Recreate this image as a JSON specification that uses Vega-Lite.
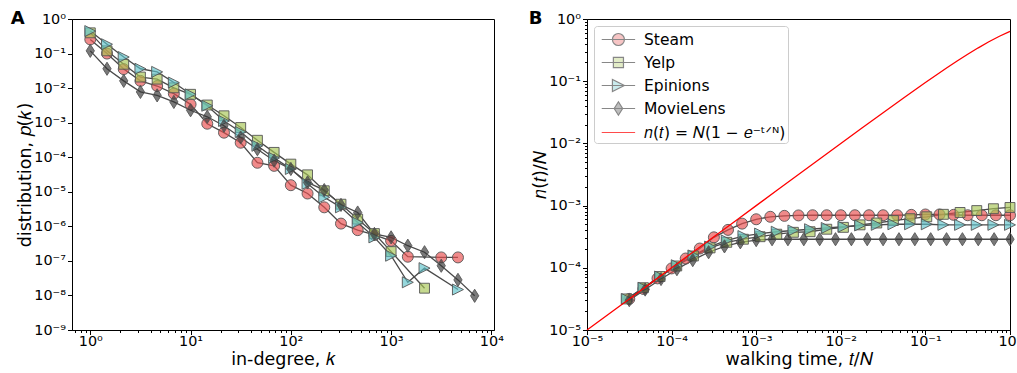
{
  "$schema": "https://vega.github.io/schema/vega-lite/v6.json",
  "padding": {"left": 10, "right": 0, "top": 9, "bottom": 0},
  "config": {
    "font": "DejaVu Sans",
    "view": {"stroke": "black", "strokeWidth": 1},
    "axis": {"labelFont": "DejaVu Sans", "labelFontSize": 14.4, "labelColor": "black", "titleFont": "DejaVu Sans", "titleFontSize": 17.5, "titleFontWeight": "normal", "titleColor": "black", "domainColor": "black", "tickColor": "black", "grid": false, "labelOverlap": false, "labelFlush": false, "tickWidth": 1, "labelPadding": 2, "titlePadding": -1},
    "axisX": {"labelPadding": 0, "titlePadding": 3},
    "title": {"font": "DejaVu Sans", "fontSize": 18, "fontWeight": "bold", "anchor": "start", "frame": "bounds", "color": "black"},
    "concat": {"spacing": 24}
  },
  "resolve": {"scale": {"color": "independent", "shape": "independent", "fill": "independent", "stroke": "independent"}, "legend": {"color": "independent", "shape": "independent", "fill": "independent", "stroke": "independent"}},
  "datasets": {
    "deg": [
      {"series":"Steam","k":1,"p":2.57e-1},{"series":"Steam","k":1.4678,"p":1.0e-1},{"series":"Steam","k":2.1544,"p":3.55e-2},{"series":"Steam","k":3.1623,"p":1.62e-2},{"series":"Steam","k":4.6416,"p":1.15e-2},{"series":"Steam","k":6.8129,"p":6.92e-3},{"series":"Steam","k":10,"p":3.39e-3},{"series":"Steam","k":14.678,"p":9.33e-4},{"series":"Steam","k":21.544,"p":5.13e-4},{"series":"Steam","k":31.623,"p":2.63e-4},{"series":"Steam","k":46.416,"p":6.92e-5},{"series":"Steam","k":68.129,"p":5.62e-5},{"series":"Steam","k":100,"p":1.55e-5},{"series":"Steam","k":146.78,"p":8.91e-6},{"series":"Steam","k":215.44,"p":3.55e-6},{"series":"Steam","k":316.23,"p":1.20e-6},{"series":"Steam","k":464.16,"p":7.76e-7},{"series":"Steam","k":681.29,"p":5.62e-7},{"series":"Steam","k":1000,"p":3.80e-7},{"series":"Steam","k":1467.8,"p":1.32e-7},{"series":"Steam","k":3162.3,"p":1.26e-7},{"series":"Steam","k":4641.6,"p":1.26e-7},
      {"series":"Yelp","k":1,"p":3.98e-1},{"series":"Yelp","k":1.4678,"p":1.20e-1},{"series":"Yelp","k":2.1544,"p":4.90e-2},{"series":"Yelp","k":3.1623,"p":2.09e-2},{"series":"Yelp","k":4.6416,"p":1.82e-2},{"series":"Yelp","k":6.8129,"p":1.02e-2},{"series":"Yelp","k":10,"p":6.61e-3},{"series":"Yelp","k":14.678,"p":3.24e-3},{"series":"Yelp","k":21.544,"p":1.58e-3},{"series":"Yelp","k":31.623,"p":7.24e-4},{"series":"Yelp","k":46.416,"p":3.09e-4},{"series":"Yelp","k":68.129,"p":1.38e-4},{"series":"Yelp","k":100,"p":6.31e-5},{"series":"Yelp","k":146.78,"p":3.09e-5},{"series":"Yelp","k":215.44,"p":1.07e-5},{"series":"Yelp","k":316.23,"p":4.37e-6},{"series":"Yelp","k":464.16,"p":1.62e-6},{"series":"Yelp","k":681.29,"p":6.17e-7},{"series":"Yelp","k":1000,"p":1.86e-7},{"series":"Yelp","k":2154.4,"p":1.62e-8},
      {"series":"Epinions","k":1,"p":4.47e-1},{"series":"Epinions","k":1.4678,"p":1.86e-1},{"series":"Epinions","k":2.1544,"p":7.94e-2},{"series":"Epinions","k":3.1623,"p":3.63e-2},{"series":"Epinions","k":4.6416,"p":2.95e-2},{"series":"Epinions","k":6.8129,"p":1.45e-2},{"series":"Epinions","k":10,"p":6.61e-3},{"series":"Epinions","k":14.678,"p":3.09e-3},{"series":"Epinions","k":21.544,"p":1.12e-3},{"series":"Epinions","k":31.623,"p":5.37e-4},{"series":"Epinions","k":46.416,"p":2.14e-4},{"series":"Epinions","k":68.129,"p":9.55e-5},{"series":"Epinions","k":100,"p":4.57e-5},{"series":"Epinions","k":146.78,"p":1.70e-5},{"series":"Epinions","k":215.44,"p":6.92e-6},{"series":"Epinions","k":316.23,"p":3.55e-6},{"series":"Epinions","k":464.16,"p":1.29e-6},{"series":"Epinions","k":681.29,"p":4.79e-7},{"series":"Epinions","k":1000,"p":1.41e-7},{"series":"Epinions","k":1467.8,"p":2.40e-8},{"series":"Epinions","k":2154.4,"p":6.17e-8},{"series":"Epinions","k":4641.6,"p":1.48e-8},
      {"series":"MovieLens","k":1,"p":1.20e-1},{"series":"MovieLens","k":1.4678,"p":3.63e-2},{"series":"MovieLens","k":2.1544,"p":1.62e-2},{"series":"MovieLens","k":3.1623,"p":7.76e-3},{"series":"MovieLens","k":4.6416,"p":6.17e-3},{"series":"MovieLens","k":6.8129,"p":3.98e-3},{"series":"MovieLens","k":10,"p":2.29e-3},{"series":"MovieLens","k":14.678,"p":1.48e-3},{"series":"MovieLens","k":21.544,"p":8.13e-4},{"series":"MovieLens","k":31.623,"p":3.72e-4},{"series":"MovieLens","k":46.416,"p":1.70e-4},{"series":"MovieLens","k":68.129,"p":7.94e-5},{"series":"MovieLens","k":100,"p":4.57e-5},{"series":"MovieLens","k":146.78,"p":1.86e-5},{"series":"MovieLens","k":215.44,"p":1.12e-5},{"series":"MovieLens","k":316.23,"p":4.17e-6},{"series":"MovieLens","k":464.16,"p":2.51e-6},{"series":"MovieLens","k":681.29,"p":6.03e-7},{"series":"MovieLens","k":1000,"p":4.79e-7},{"series":"MovieLens","k":1467.8,"p":2.75e-7},{"series":"MovieLens","k":2154.4,"p":1.78e-7},{"series":"MovieLens","k":3162.3,"p":7.24e-8},{"series":"MovieLens","k":4641.6,"p":2.82e-8},{"series":"MovieLens","k":6812.9,"p":9.77e-9}
    ],
    "walk": [
      {"series":"Steam","t":3.162e-5,"n":3.16e-5},{"series":"Steam","t":4.642e-5,"n":4.57e-5},{"series":"Steam","t":6.813e-5,"n":6.76e-5},{"series":"Steam","t":1.0e-4,"n":9.77e-5},{"series":"Steam","t":1.468e-4,"n":1.41e-4},{"series":"Steam","t":2.154e-4,"n":2.04e-4},{"series":"Steam","t":3.162e-4,"n":3.09e-4},{"series":"Steam","t":4.642e-4,"n":4.07e-4},{"series":"Steam","t":6.813e-4,"n":5.13e-4},{"series":"Steam","t":1.0e-3,"n":6.03e-4},{"series":"Steam","t":1.468e-3,"n":6.61e-4},{"series":"Steam","t":2.154e-3,"n":6.84e-4},{"series":"Steam","t":3.162e-3,"n":6.95e-4},{"series":"Steam","t":4.642e-3,"n":7.0e-4},{"series":"Steam","t":6.813e-3,"n":7.0e-4},{"series":"Steam","t":1.0e-2,"n":7.0e-4},{"series":"Steam","t":1.468e-2,"n":7.0e-4},{"series":"Steam","t":2.154e-2,"n":7.0e-4},{"series":"Steam","t":3.162e-2,"n":7.0e-4},{"series":"Steam","t":4.642e-2,"n":7.0e-4},{"series":"Steam","t":6.813e-2,"n":7.1e-4},{"series":"Steam","t":0.1,"n":7.2e-4},{"series":"Steam","t":0.1468,"n":7.2e-4},{"series":"Steam","t":0.2154,"n":7.1e-4},{"series":"Steam","t":0.3162,"n":7.0e-4},{"series":"Steam","t":0.4642,"n":7.0e-4},{"series":"Steam","t":0.6813,"n":7.0e-4},{"series":"Steam","t":1.0,"n":7.0e-4},
      {"series":"Yelp","t":2.951e-5,"n":3.16e-5},{"series":"Yelp","t":4.645e-5,"n":4.79e-5},{"series":"Yelp","t":7.31e-5,"n":7.24e-5},{"series":"Yelp","t":1.151e-4,"n":1.07e-4},{"series":"Yelp","t":1.811e-4,"n":1.55e-4},{"series":"Yelp","t":2.851e-4,"n":2.09e-4},{"series":"Yelp","t":4.487e-4,"n":2.57e-4},{"series":"Yelp","t":7.063e-4,"n":2.88e-4},{"series":"Yelp","t":1.112e-3,"n":3.16e-4},{"series":"Yelp","t":1.75e-3,"n":3.47e-4},{"series":"Yelp","t":2.754e-3,"n":3.72e-4},{"series":"Yelp","t":4.335e-3,"n":3.80e-4},{"series":"Yelp","t":6.823e-3,"n":4.17e-4},{"series":"Yelp","t":1.074e-2,"n":4.47e-4},{"series":"Yelp","t":1.69e-2,"n":4.90e-4},{"series":"Yelp","t":2.661e-2,"n":5.25e-4},{"series":"Yelp","t":4.188e-2,"n":5.75e-4},{"series":"Yelp","t":6.592e-2,"n":6.17e-4},{"series":"Yelp","t":0.1038,"n":6.61e-4},{"series":"Yelp","t":0.1633,"n":7.24e-4},{"series":"Yelp","t":0.257,"n":7.76e-4},{"series":"Yelp","t":0.4046,"n":8.32e-4},{"series":"Yelp","t":0.6368,"n":8.91e-4},{"series":"Yelp","t":1.0,"n":9.33e-4},
      {"series":"Epinions","t":2.951e-5,"n":3.16e-5},{"series":"Epinions","t":4.645e-5,"n":4.79e-5},{"series":"Epinions","t":7.31e-5,"n":7.24e-5},{"series":"Epinions","t":1.151e-4,"n":1.10e-4},{"series":"Epinions","t":1.811e-4,"n":1.58e-4},{"series":"Epinions","t":2.851e-4,"n":2.19e-4},{"series":"Epinions","t":4.487e-4,"n":2.75e-4},{"series":"Epinions","t":7.063e-4,"n":3.24e-4},{"series":"Epinions","t":1.112e-3,"n":3.55e-4},{"series":"Epinions","t":1.75e-3,"n":3.80e-4},{"series":"Epinions","t":2.754e-3,"n":3.98e-4},{"series":"Epinions","t":4.335e-3,"n":4.17e-4},{"series":"Epinions","t":6.823e-3,"n":4.37e-4},{"series":"Epinions","t":1.074e-2,"n":4.57e-4},{"series":"Epinions","t":1.69e-2,"n":4.79e-4},{"series":"Epinions","t":2.661e-2,"n":4.90e-4},{"series":"Epinions","t":4.188e-2,"n":5.01e-4},{"series":"Epinions","t":6.592e-2,"n":5.01e-4},{"series":"Epinions","t":0.1038,"n":5.01e-4},{"series":"Epinions","t":0.1633,"n":4.90e-4},{"series":"Epinions","t":0.257,"n":4.90e-4},{"series":"Epinions","t":0.4046,"n":4.90e-4},{"series":"Epinions","t":0.6368,"n":4.90e-4},{"series":"Epinions","t":1.0,"n":4.90e-4},
      {"series":"MovieLens","t":3.162e-5,"n":3.02e-5},{"series":"MovieLens","t":4.87e-5,"n":4.47e-5},{"series":"MovieLens","t":7.499e-5,"n":6.6e-5},{"series":"MovieLens","t":1.155e-4,"n":9.5e-5},{"series":"MovieLens","t":1.778e-4,"n":1.33e-4},{"series":"MovieLens","t":2.738e-4,"n":1.78e-4},{"series":"MovieLens","t":4.217e-4,"n":2.21e-4},{"series":"MovieLens","t":6.494e-4,"n":2.57e-4},{"series":"MovieLens","t":1.0e-3,"n":2.79e-4},{"series":"MovieLens","t":1.54e-3,"n":2.88e-4},{"series":"MovieLens","t":2.371e-3,"n":2.88e-4},{"series":"MovieLens","t":3.652e-3,"n":2.88e-4},{"series":"MovieLens","t":5.623e-3,"n":2.88e-4},{"series":"MovieLens","t":8.66e-3,"n":2.88e-4},{"series":"MovieLens","t":1.334e-2,"n":2.88e-4},{"series":"MovieLens","t":2.054e-2,"n":2.88e-4},{"series":"MovieLens","t":3.162e-2,"n":2.88e-4},{"series":"MovieLens","t":4.87e-2,"n":2.88e-4},{"series":"MovieLens","t":7.499e-2,"n":2.88e-4},{"series":"MovieLens","t":0.1155,"n":2.88e-4},{"series":"MovieLens","t":0.1778,"n":2.88e-4},{"series":"MovieLens","t":0.2738,"n":2.88e-4},{"series":"MovieLens","t":0.4217,"n":2.88e-4},{"series":"MovieLens","t":0.6494,"n":2.88e-4},{"series":"MovieLens","t":1.0,"n":2.88e-4}
    ],
    "fit": [
      {"t":1e-5,"n":1e-5},{"t":1.778e-5,"n":1.778e-5},{"t":3.162e-5,"n":3.162e-5},{"t":5.623e-5,"n":5.623e-5},{"t":1e-4,"n":9.9995e-5},{"t":1.778e-4,"n":1.7778e-4},{"t":3.162e-4,"n":3.1615e-4},{"t":5.623e-4,"n":5.6214e-4},{"t":1e-3,"n":9.995e-4},{"t":1.778e-3,"n":1.7762e-3},{"t":3.162e-3,"n":3.157e-3},{"t":5.623e-3,"n":5.607e-3},{"t":1e-2,"n":9.95e-3},{"t":1.778e-2,"n":1.7623e-2},{"t":3.162e-2,"n":3.113e-2},{"t":5.623e-2,"n":5.468e-2},{"t":0.1,"n":0.09516},{"t":0.1334,"n":0.1249},{"t":0.1778,"n":0.1629},{"t":0.2371,"n":0.2111},{"t":0.3162,"n":0.2711},{"t":0.4217,"n":0.3441},{"t":0.5623,"n":0.4301},{"t":0.7499,"n":0.5276},{"t":1.0,"n":0.6321}
    ]
  },
  "hconcat": [
    {
      "title": {"text": "A", "dx": -6, "dy": 21},
      "width": 422,
      "height": 311,
      "data": {"name": "deg"},
      "layer": [
        {
          "mark": {"type": "line", "color": "#4a4a4a", "strokeWidth": 1.3},
          "encoding": {
            "x": {"field": "k", "type": "quantitative", "scale": {"type": "log", "domain": [0.657, 10620], "nice": false},
              "axis": {"title": "in-degree, 𝑘",
                "values": [0.7,0.8,0.9,1,2,3,4,5,6,7,8,9,10,20,30,40,50,60,70,80,90,100,200,300,400,500,600,700,800,900,1000,2000,3000,4000,5000,6000,7000,8000,9000,10000],
                "labelExpr": "abs(datum.value/pow(10,round(log(datum.value)/LN10))-1)<1e-6 ? '10'+(datum.value<0.5?'⁻':'')+substring('⁰¹²³⁴⁵⁶⁷⁸⁹',abs(round(log(datum.value)/LN10)),abs(round(log(datum.value)/LN10))+1) : ''",
                "tickSize": {"condition": {"test": "abs(datum.value/pow(10,round(log(datum.value)/LN10))-1)<1e-6", "value": 4.5}, "value": 2.5}}},
            "y": {"field": "p", "type": "quantitative", "scale": {"type": "log", "domain": [1e-9, 1], "nice": false},
              "axis": {"title": "distribution, 𝑝(𝑘)",
                "values": [1e-9,1e-8,1e-7,1e-6,1e-5,1e-4,1e-3,1e-2,1e-1,1],
                "tickSize": 4.5,
                "labelExpr": "'10'+(datum.value<0.5?'⁻':'')+substring('⁰¹²³⁴⁵⁶⁷⁸⁹',abs(round(log(datum.value)/LN10)),abs(round(log(datum.value)/LN10))+1)"}},
            "detail": {"field": "series"}
          }
        },
        {
          "mark": {"type": "point", "filled": true, "size": 121, "stroke": "#555555", "strokeWidth": 1, "fillOpacity": 0.65, "strokeOpacity": 0.9},
          "encoding": {
            "x": {"field": "k", "type": "quantitative"},
            "y": {"field": "p", "type": "quantitative"},
            "color": {"field": "series", "type": "nominal", "scale": {"domain": ["Steam","Yelp","Epinions","MovieLens"], "range": ["#E84B4B","#A6C553","#5DC1C9","#333333"]}, "legend": null},
            "shape": {"field": "series", "type": "nominal", "scale": {"domain": ["Steam","Yelp","Epinions","MovieLens"], "range": ["circle","M-0.9,-0.9L0.9,-0.9L0.9,0.9L-0.9,0.9Z","M1,0L-1,1L-1,-1Z","M0,-1.2L0.75,0L0,1.2L-0.75,0Z"]}, "legend": null}
          }
        }
      ]
    },
    {
      "title": {"text": "B", "dx": -3, "dy": 21},
      "width": 423,
      "height": 311,
      "layer": [
        {
          "data": {"name": "walk"},
          "mark": {"type": "line", "color": "#4a4a4a", "strokeWidth": 1.3},
          "encoding": {
            "x": {"field": "t", "type": "quantitative", "scale": {"type": "log", "domain": [1e-5, 1], "nice": false},
              "axis": {"title": "walking time, 𝑡/𝑁",
                "values": [1e-5,2e-5,3e-5,4e-5,5e-5,6e-5,7e-5,8e-5,9e-5,1e-4,2e-4,3e-4,4e-4,5e-4,6e-4,7e-4,8e-4,9e-4,1e-3,2e-3,3e-3,4e-3,5e-3,6e-3,7e-3,8e-3,9e-3,1e-2,2e-2,3e-2,4e-2,5e-2,6e-2,7e-2,8e-2,9e-2,0.1,0.2,0.3,0.4,0.5,0.6,0.7,0.8,0.9,1],
                "labelExpr": "abs(datum.value/pow(10,round(log(datum.value)/LN10))-1)<1e-6 ? '10'+(datum.value<0.5?'⁻':'')+substring('⁰¹²³⁴⁵⁶⁷⁸⁹',abs(round(log(datum.value)/LN10)),abs(round(log(datum.value)/LN10))+1) : ''",
                "tickSize": {"condition": {"test": "abs(datum.value/pow(10,round(log(datum.value)/LN10))-1)<1e-6", "value": 4.5}, "value": 2.5}}},
            "y": {"field": "n", "type": "quantitative", "scale": {"type": "log", "domain": [1e-5, 1], "nice": false},
              "axis": {"title": "𝑛(𝑡)/𝑁",
                "values": [1e-5,2e-5,3e-5,4e-5,5e-5,6e-5,7e-5,8e-5,9e-5,1e-4,2e-4,3e-4,4e-4,5e-4,6e-4,7e-4,8e-4,9e-4,1e-3,2e-3,3e-3,4e-3,5e-3,6e-3,7e-3,8e-3,9e-3,1e-2,2e-2,3e-2,4e-2,5e-2,6e-2,7e-2,8e-2,9e-2,0.1,0.2,0.3,0.4,0.5,0.6,0.7,0.8,0.9,1],
                "labelExpr": "abs(datum.value/pow(10,round(log(datum.value)/LN10))-1)<1e-6 ? '10'+(datum.value<0.5?'⁻':'')+substring('⁰¹²³⁴⁵⁶⁷⁸⁹',abs(round(log(datum.value)/LN10)),abs(round(log(datum.value)/LN10))+1) : ''",
                "tickSize": {"condition": {"test": "abs(datum.value/pow(10,round(log(datum.value)/LN10))-1)<1e-6", "value": 4.5}, "value": 2.5}}},
            "detail": {"field": "series"}
          }
        },
        {
          "data": {"name": "walk"},
          "transform": [{"filter": {"field": "series", "equal": "Steam"}}],
          "mark": {"type": "point", "filled": true, "shape": "circle", "size": 121, "stroke": "#555555", "strokeWidth": 1, "fillOpacity": 0.65, "strokeOpacity": 0.9},
          "encoding": {
            "x": {"field": "t", "type": "quantitative"},
            "y": {"field": "n", "type": "quantitative"},
            "color": {"field": "series", "type": "nominal", "scale": {"domain": ["Steam","Yelp","Epinions","MovieLens"], "range": ["#E84B4B","#A6C553","#5DC1C9","#333333"]}, "legend": null}
          }
        },
        {
          "data": {"name": "walk"},
          "transform": [{"filter": {"field": "series", "equal": "Yelp"}}],
          "mark": {"type": "point", "filled": true, "shape": "M-0.9,-0.9L0.9,-0.9L0.9,0.9L-0.9,0.9Z", "size": 121, "stroke": "#555555", "strokeWidth": 1, "fillOpacity": 0.65, "strokeOpacity": 0.9},
          "encoding": {
            "x": {"field": "t", "type": "quantitative"},
            "y": {"field": "n", "type": "quantitative"},
            "color": {"field": "series", "type": "nominal", "legend": null}
          }
        },
        {
          "data": {"name": "walk"},
          "transform": [{"filter": {"field": "series", "equal": "Epinions"}}],
          "mark": {"type": "point", "filled": true, "shape": "M1,0L-1,1L-1,-1Z", "size": 121, "stroke": "#555555", "strokeWidth": 1, "fillOpacity": 0.65, "strokeOpacity": 0.9},
          "encoding": {
            "x": {"field": "t", "type": "quantitative"},
            "y": {"field": "n", "type": "quantitative"},
            "color": {"field": "series", "type": "nominal", "legend": null}
          }
        },
        {
          "data": {"name": "walk"},
          "transform": [{"filter": {"field": "series", "equal": "MovieLens"}}],
          "mark": {"type": "point", "filled": true, "shape": "M0,-1.2L0.75,0L0,1.2L-0.75,0Z", "size": 121, "stroke": "#555555", "strokeWidth": 1, "fillOpacity": 0.65, "strokeOpacity": 0.9},
          "encoding": {
            "x": {"field": "t", "type": "quantitative"},
            "y": {"field": "n", "type": "quantitative"},
            "color": {"field": "series", "type": "nominal", "legend": null}
          }
        },
        {
          "data": {"name": "fit"},
          "mark": {"type": "line", "color": "#ff0000", "strokeWidth": 1.3},
          "encoding": {
            "x": {"field": "t", "type": "quantitative"},
            "y": {"field": "n", "type": "quantitative"}
          }
        },
        {
          "data": {"name": "walk"},
          "transform": [{"filter": "false"}],
          "mark": {"type": "point", "filled": true, "size": 441, "strokeWidth": 1.2},
          "encoding": {
            "x": {"field": "t", "type": "quantitative"},
            "y": {"field": "n", "type": "quantitative"},
            "fill": {"field": "series", "type": "nominal", "scale": {"domain": ["Steam","Yelp","Epinions","MovieLens","fit"], "range": ["#F08A8A","#C5D98F","#96D7DC","#7A7A7A","#ff0000"]},
              "legend": {"title": null, "orient": "top-left", "offset": 7, "padding": 2, "strokeColor": "#cccccc", "fillColor": "white", "cornerRadius": 3, "labelFont": "DejaVu Sans", "labelFontSize": 15.5, "labelColor": "black", "symbolSize": 441, "labelOffset": 25, "rowPadding": 3, "symbolStrokeWidth": 1.2, "labelExpr": "datum.value === 'fit' ? '𝑛(𝑡) = 𝑁(1 − 𝑒⁻ᵗᐟᴺ)' : datum.value"}},
            "shape": {"field": "series", "type": "nominal", "scale": {"domain": ["Steam","Yelp","Epinions","MovieLens","fit"], "range": ["M-0.55,0L2.63,0M1.61,0A0.57,0.57,0,1,1,0.47,0A0.57,0.57,0,1,1,1.61,0Z","M-0.55,0L2.63,0M0.56,-0.48L1.52,-0.48L1.52,0.48L0.56,0.48Z","M-0.55,0L2.63,0M1.61,0L0.47,0.57L0.47,-0.57Z","M-0.55,0L2.63,0M1.04,-0.64L1.44,0L1.04,0.64L0.64,0Z","M-0.55,0L2.63,0"]},
              "legend": {"title": null, "orient": "top-left", "offset": 7, "padding": 2, "strokeColor": "#cccccc", "fillColor": "white", "cornerRadius": 3, "labelFont": "DejaVu Sans", "labelFontSize": 15.5, "labelColor": "black", "symbolSize": 441, "labelOffset": 25, "rowPadding": 3, "symbolStrokeWidth": 1.2, "labelExpr": "datum.value === 'fit' ? '𝑛(𝑡) = 𝑁(1 − 𝑒⁻ᵗᐟᴺ)' : datum.value"}},
            "stroke": {"field": "series", "type": "nominal", "scale": {"domain": ["Steam","Yelp","Epinions","MovieLens","fit"], "range": ["#555555","#555555","#555555","#555555","#ff0000"]},
              "legend": {"title": null, "orient": "top-left", "offset": 7, "padding": 2, "strokeColor": "#cccccc", "fillColor": "white", "cornerRadius": 3, "labelFont": "DejaVu Sans", "labelFontSize": 15.5, "labelColor": "black", "symbolSize": 441, "labelOffset": 25, "rowPadding": 3, "symbolStrokeWidth": 1.2, "labelExpr": "datum.value === 'fit' ? '𝑛(𝑡) = 𝑁(1 − 𝑒⁻ᵗᐟᴺ)' : datum.value"}}
          }
        }
      ]
    }
  ]
}
